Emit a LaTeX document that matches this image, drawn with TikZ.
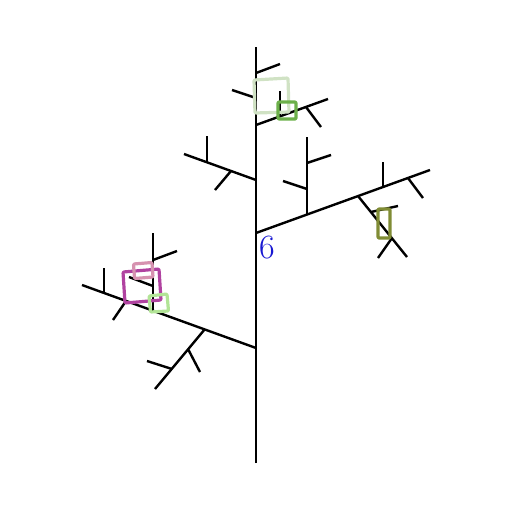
\documentclass[tikz,border=0pt]{standalone}
\usepackage{fontspec}
\setmainfont{Latin Modern Roman}
\usepackage{xcolor}
\definecolor{palegreen}{RGB}{208,226,196}
\definecolor{darkgreen}{RGB}{108,176,74}
\definecolor{olivec}{RGB}{128,140,52}
\definecolor{magentac}{RGB}{176,66,160}
\definecolor{pinkc}{RGB}{214,146,176}
\definecolor{lightgreen}{RGB}{178,228,150}
\definecolor{bluec}{RGB}{24,24,210}
\begin{document}
\begin{tikzpicture}[x=1pt,y=-1pt,
  br/.style={line width=2.4pt,black},
  sqbox/.style={line width=3.2pt,line join=round,rounded corners=1pt},
  lab/.style={inner sep=0pt,text=bluec,font=\fontsize{34}{38}\selectfont}]
\useasboundingbox (0,0) rectangle (512,512);
% trunk points
\coordinate (t0) at (256,463);
\coordinate (t1) at (256,348);
\coordinate (t2) at (256,233);
\coordinate (t3) at (256,180);
\coordinate (t4) at (256,125);
\coordinate (t5) at (256,98);
\coordinate (t6) at (256,73);
\coordinate (ttop) at (256,47);
\draw[br] (t0) -- (ttop);
% branch A
\coordinate (ae) at (82,285);
\draw[br] (t1) -- (ae);
\coordinate (a1) at (205,329); \coordinate (a1e) at (155,389);
\draw[br] (a1) -- (a1e);
\coordinate (a11) at (188,349); \coordinate (a11e) at (200,372);
\draw[br] (a11) -- (a11e);
\coordinate (a12) at (172,369); \coordinate (a12e) at (147,361);
\draw[br] (a12) -- (a12e);
\coordinate (a2) at (153,311); \coordinate (a2e) at (153,233);
\draw[br] (a2) -- (a2e);
\coordinate (a21) at (153,260); \coordinate (a21e) at (177,251);
\draw[br] (a21) -- (a21e);
\coordinate (a22) at (153,286); \coordinate (a22e) at (129,277);
\draw[br] (a22) -- (a22e);
\coordinate (a3) at (126,301); \coordinate (a3e) at (113,320);
\draw[br] (a3) -- (a3e);
\coordinate (a4) at (104,293); \coordinate (a4e) at (104,268);
\draw[br] (a4) -- (a4e);
% branch B
\coordinate (be) at (430,170);
\draw[br] (t2) -- (be);
\coordinate (b1) at (307,214.5); \coordinate (b1e) at (307,137);
\draw[br] (b1) -- (b1e);
\coordinate (b11) at (307,163); \coordinate (b11e) at (331,155);
\draw[br] (b11) -- (b11e);
\coordinate (b12) at (307,189); \coordinate (b12e) at (283,181);
\draw[br] (b12) -- (b12e);
\coordinate (b2) at (358,196); \coordinate (b2e) at (407,257);
\draw[br] (b2) -- (b2e);
\coordinate (b21) at (371,212); \coordinate (b21e) at (398,206);
\draw[br] (b21) -- (b21e);
\coordinate (b22) at (392,238); \coordinate (b22e) at (378,258);
\draw[br] (b22) -- (b22e);
\coordinate (b3) at (383,187); \coordinate (b3e) at (383,162);
\draw[br] (b3) -- (b3e);
\coordinate (b4) at (408,178); \coordinate (b4e) at (423,198);
\draw[br] (b4) -- (b4e);
% branch C
\coordinate (ce) at (184,154);
\draw[br] (t3) -- (ce);
\coordinate (c1) at (231,171); \coordinate (c1e) at (215,190);
\draw[br] (c1) -- (c1e);
\coordinate (c2) at (207,162); \coordinate (c2e) at (207,136);
\draw[br] (c2) -- (c2e);
% branch D
\coordinate (de) at (328,99);
\draw[br] (t4) -- (de);
\coordinate (d1) at (280,116); \coordinate (d1e) at (280,91);
\draw[br] (d1) -- (d1e);
\coordinate (d2) at (306,107); \coordinate (d2e) at (321,127);
\draw[br] (d2) -- (d2e);
% top small branches
\coordinate (e1) at (232,90);
\draw[br] (t5) -- (e1);
\coordinate (e2) at (280,64);
\draw[br] (t6) -- (e2);
% squares
\draw[sqbox,palegreen] (254,80) -- (288,78) -- (289,112) -- (255,113) -- cycle;
\draw[sqbox,darkgreen] (278,102) rectangle (296,119);
\draw[sqbox,olivec] (378,209) rectangle (390,238);
\draw[sqbox,magentac] (123,272) -- (159,269) -- (161,300) -- (125,303) -- cycle;
\draw[sqbox,pinkc] (133.5,264) -- (152,262.5) -- (153,277) -- (134.5,278.5) -- cycle;
\draw[sqbox,lightgreen] (149,296) -- (167,294) -- (168.5,311) -- (150.5,312) -- cycle;
% label
\node[lab] (six) at (267,248) {6};
\end{tikzpicture}
\end{document}
